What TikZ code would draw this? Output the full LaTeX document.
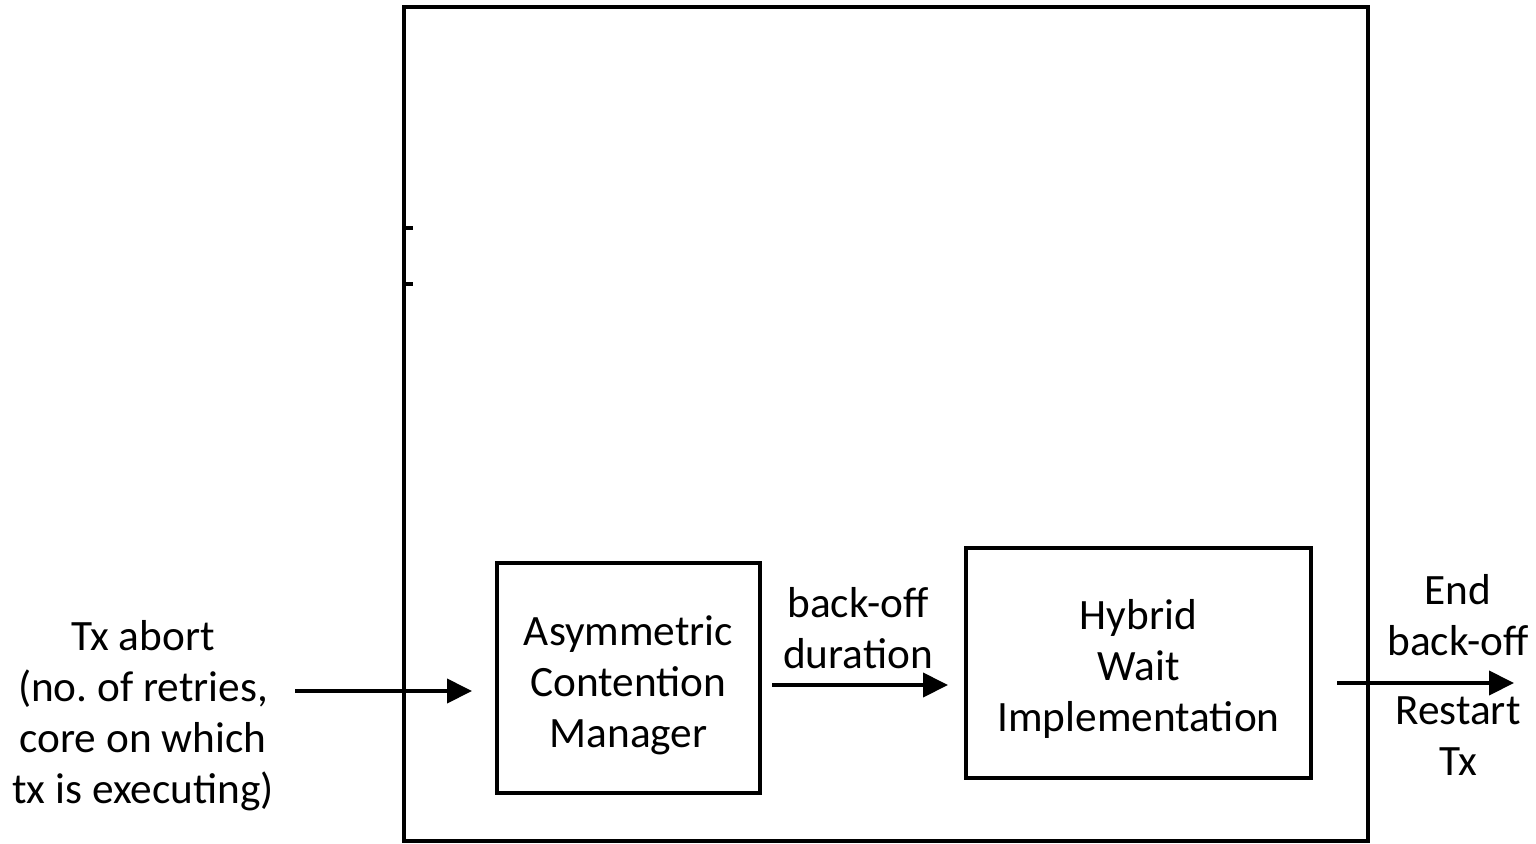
\documentclass[tikz,border=0pt]{standalone}
\usepackage{fontspec}
\setmainfont{Carlito}
\usetikzlibrary{arrows.meta}
\begin{document}
\frenchspacing
\begin{tikzpicture}[x=1pt,y=-1pt,
  line width=4pt,
  blockbox/.style={draw,line width=3.5pt,inner sep=0pt},
  lbl/.style={align=center,inner sep=0pt,font=\fontsize{43.3}{51}\selectfont},
  flow/.style={-{Triangle[length=25pt,width=24pt]},line width=4pt}]
\useasboundingbox (0,0) rectangle (1536,843);

% outer frame and the two short ticks on its left side
\draw[line width=4pt] (404,7) rectangle (1368,841);
\draw[line width=3.5pt] (402,228) -- (413,228);
\draw[line width=3.5pt] (402,284) -- (413,284);

% blocks
\node[blockbox,minimum width=263pt,minimum height=230pt] (acm) at (628.5,678) {};
\node[blockbox,minimum width=345pt,minimum height=230pt] (hwi) at (1138.5,663) {};
\node[lbl] (acmt) at ([yshift=-7pt]acm.center) {Asymmetric\\Contention\\Manager};
\node[lbl] (hwit) at ([yshift=-6pt]hwi.center) {Hybrid\\Wait\\Implementation};

% labels
\node[lbl] (inp) at (143,716) {Tx abort\\(no. of retries,\\core on which\\tx is executing)};
\node[lbl] (dur) at (858,628) {back-off\\duration};
\node[lbl] (endt) at (1458,615) {End\\back-off};
\node[lbl] (rst) at (1458,736) {Restart\\Tx};

% connectors
\coordinate (in0) at (295,691);
\coordinate (in1) at (472,691);
\coordinate (mid0) at (772,685);
\coordinate (mid1) at (948,685);
\coordinate (out0) at (1337,683);
\coordinate (out1) at (1514,683);
\draw[flow] (in0) -- (in1);
\draw[flow] (mid0) -- (mid1);
\draw[flow] (out0) -- (out1);
\end{tikzpicture}
\end{document}
